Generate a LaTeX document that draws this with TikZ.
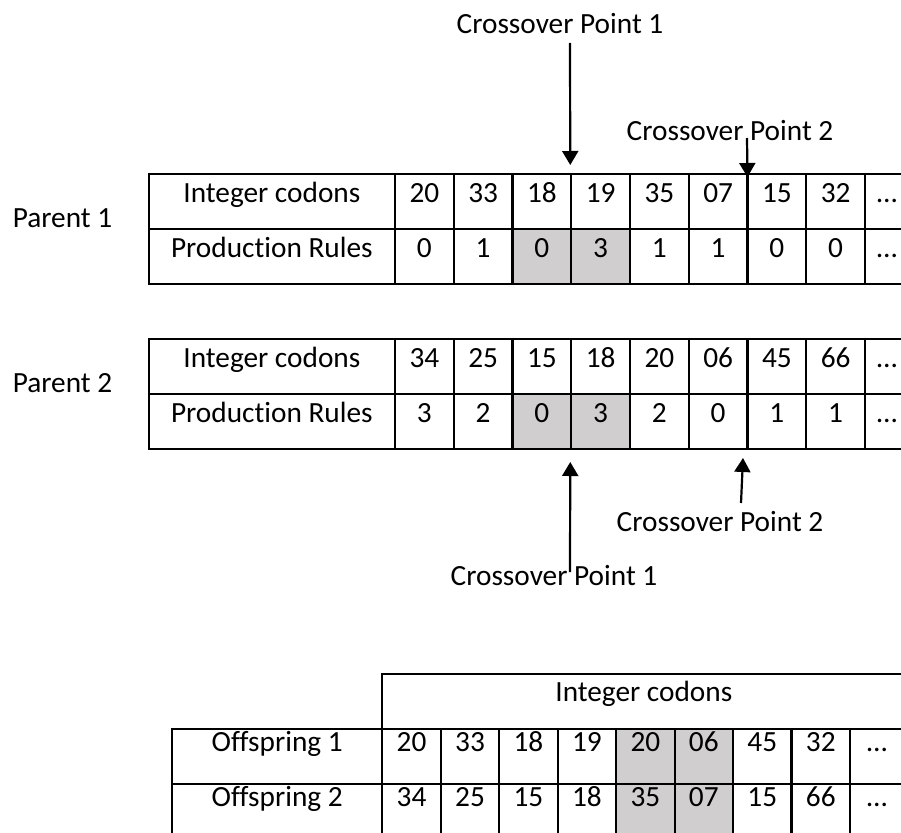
\documentclass[tikz,border=0pt]{standalone}
\usepackage{fontspec}
\setmainfont{Carlito}[Ligatures={NoCommon}]
\usetikzlibrary{arrows.meta}
\definecolor{cellgray}{RGB}{208,206,206}
\begin{document}
\begin{tikzpicture}[x=1pt,y=-1pt,
  every node/.style={font=\fontsize{29.3}{35}\selectfont, inner sep=0pt, outer sep=0pt},
  cell/.style={draw, line width=2.2pt, minimum height=55pt, text height=28.3pt, text depth=26.7pt},
  offcell/.style={draw, line width=2.2pt, minimum height=55pt, text height=22.7pt, text depth=32.3pt},
  pointer/.style={line width=2.2pt, -{Triangle[width=16pt,length=14pt]}}
]
\useasboundingbox (0,0) rectangle (901,832);

% ---------- Parent 1 ----------
\node[anchor=base] (par1) at (62.5,227.3) {Parent 1};
\node[cell, minimum width=246.3pt] (p1lab1) at (271.85,201.5) {Integer codons};
\node[cell, minimum width=246.3pt] (p1lab2) at (271.85,256.5) {Production Rules};
\foreach \v [count=\k] in {20,33,18,19,35,07,15,32}
  \node[cell, minimum width=58.75pt] (p1a\k) at ({395+58.75*(\k-0.5)},201.5) {\v};
\foreach \v/\f [count=\k] in {0/white,1/white,0/cellgray,3/cellgray,1/white,1/white,0/white,0/white}
  \node[cell, fill=\f, minimum width=58.75pt] (p1b\k) at ({395+58.75*(\k-0.5)},256.5) {\v};
\node[cell, minimum width=44pt] (p1a9) at (887,201.5) {…};
\node[cell, minimum width=44pt] (p1b9) at (887,256.5) {…};

% ---------- Parent 2 ----------
\node[anchor=base] (par2) at (62.5,392) {Parent 2};
\node[cell, minimum width=246.3pt] (p2lab1) at (271.85,366.5) {Integer codons};
\node[cell, minimum width=246.3pt] (p2lab2) at (271.85,421.5) {Production Rules};
\foreach \v [count=\k] in {34,25,15,18,20,06,45,66}
  \node[cell, minimum width=58.75pt] (p2a\k) at ({395+58.75*(\k-0.5)},366.5) {\v};
\foreach \v/\f [count=\k] in {3/white,2/white,0/cellgray,3/cellgray,2/white,0/white,1/white,1/white}
  \node[cell, fill=\f, minimum width=58.75pt] (p2b\k) at ({395+58.75*(\k-0.5)},421.5) {\v};
\node[cell, minimum width=44pt] (p2a9) at (887,366.5) {…};
\node[cell, minimum width=44pt] (p2b9) at (887,421.5) {…};

% ---------- Crossover points ----------
\node[anchor=base] (cpa) at (560,33.3) {Crossover Point 1};
\coordinate (cpa-from) at (570,43);
\draw[pointer] (cpa-from) -- ([xshift=-1pt,yshift=9pt]p1a3.north east);

\node[anchor=base] (cpb) at (730,140) {Crossover Point 2};
\coordinate (cpb-from) at (747,138);
\draw[pointer] (cpb-from) -- ([yshift=-3pt]p1a6.north east);

\node[anchor=base] (cpc) at (554,585) {Crossover Point 1};
\coordinate (cpc-from) at (570,572);
\draw[pointer] (cpc-from) -- ([xshift=-1pt,yshift=-13pt]p2b3.south east);

\node[anchor=base] (cpd) at (720,531.7) {Crossover Point 2};
\coordinate (cpd-from) at (741,503);
\draw[pointer] (cpd-from) -- ([xshift=-4.5pt,yshift=-9pt]p2b6.south east);

% ---------- Offspring ----------
\node[cell, minimum width=523pt, text height=27.7pt, text depth=27.3pt] (hdr) at (643.8,701.5) {Integer codons};
\node[offcell, minimum width=210.3pt] (o1lab) at (277.15,756.5) {Offspring 1};
\node[offcell, minimum width=210.3pt] (o2lab) at (277.15,811.5) {Offspring 2};
\foreach \v/\f [count=\k] in {20/white,33/white,18/white,19/white,20/cellgray,06/cellgray,45/white,32/white}
  \node[offcell, fill=\f, minimum width=58.46pt] (o1\k) at ({382.3+58.46*(\k-0.5)},756.5) {\v};
\foreach \v/\f [count=\k] in {34/white,25/white,15/white,18/white,35/cellgray,07/cellgray,15/white,66/white}
  \node[offcell, fill=\f, minimum width=58.46pt] (o2\k) at ({382.3+58.46*(\k-0.5)},811.5) {\v};
\node[offcell, minimum width=54pt] (o19) at (877,756.5) {…};
\node[offcell, minimum width=54pt] (o29) at (877,811.5) {…};
\end{tikzpicture}
\end{document}
